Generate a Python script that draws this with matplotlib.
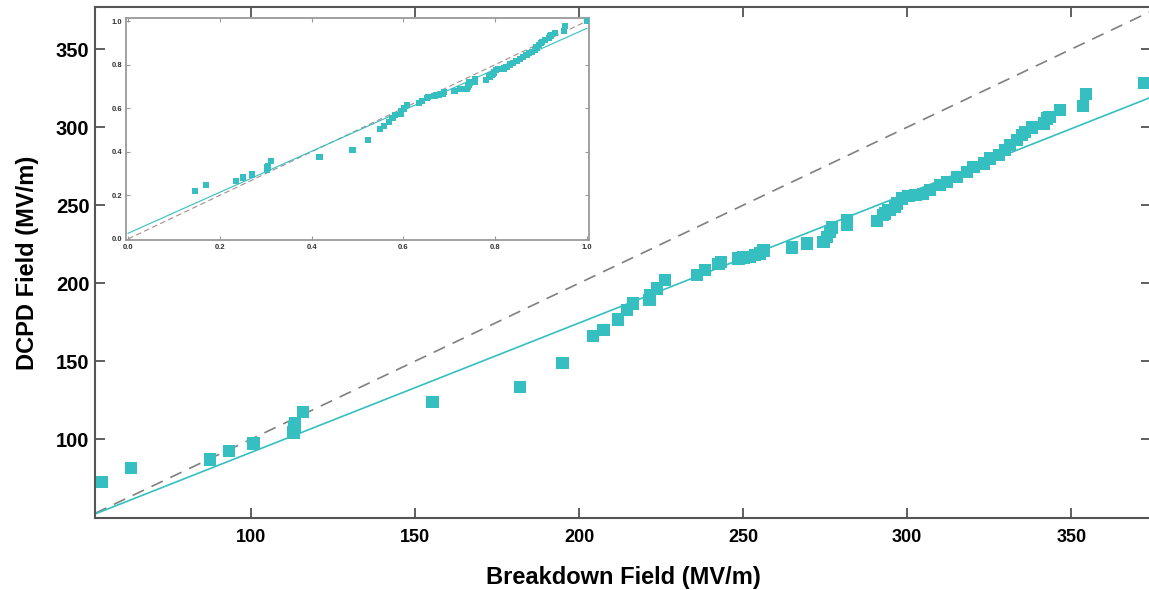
import numpy as np
import matplotlib
matplotlib.use('Agg')
import matplotlib.pyplot as plt

plt.rcParams['font.family'] = ['Liberation Sans', 'DejaVu Sans']

# 读出来的数据点 (Breakdown Field, DCPD Field)
breakdown_field = [54.6, 63.4, 87.5, 93.3, 100.7, 112.9, 113.2, 113.4, 115.8, 155.3,
                   182.0, 194.9, 204.2, 207.4, 211.8, 214.5, 216.4, 221.4, 221.6, 223.7,
                   226.2, 235.9, 238.4, 242.5, 243.2, 248.6, 250.1, 252.1, 253.7, 255.2,
                   256.2, 264.8, 269.4, 274.5, 275.5, 276.5, 277.0, 281.6, 281.6, 290.7,
                   292.7, 293.3, 294.2, 294.8, 296.3, 296.9, 298.4, 300.4, 302.5, 304.8,
                   307.0, 309.9, 312.1, 315.1, 318.2, 320.2, 323.3, 325.3, 327.9, 329.9,
                   331.4, 333.4, 334.9, 336.0, 338.0, 341.6, 342.6, 343.4, 346.6, 353.6,
                   354.6, 372.3]
dcpd_field = [72.4, 81.4, 87.0, 92.5, 97.2, 104.2, 107.5, 110.5, 117.3, 123.9,
              133.5, 148.9, 166.0, 169.9, 176.7, 182.7, 187.0, 189.1, 192.3, 196.6,
              201.9, 205.1, 208.3, 212.2, 213.7, 215.8, 216.5, 216.9, 218.0, 219.0,
              221.0, 222.9, 225.4, 226.5, 229.7, 232.9, 235.7, 237.2, 240.4, 240.0,
              243.6, 244.7, 246.8, 246.8, 248.9, 251.0, 254.3, 256.0, 256.5, 257.0,
              259.6, 262.8, 264.9, 268.1, 271.3, 274.6, 276.7, 279.9, 282.1, 285.3,
              288.5, 291.7, 294.9, 297.0, 299.8, 302.4, 305.6, 306.6, 310.9, 313.5,
              321.2, 328.4]

# 拟合直线 y = k*x + b (从图上读的)
fit_slope = 0.83
fit_intercept = 8.5

x_ticks = [100, 150, 200, 250, 300, 350]
y_ticks = [100, 150, 200, 250, 300, 350]
inset_ticks = [0.0, 0.2, 0.4, 0.6, 0.8, 1.0]

teal = '#35bfc0'


def main():
    x = np.array(breakdown_field)
    y = np.array(dcpd_field)

    fig = plt.figure(figsize=(11.49, 5.90), dpi=100)
    ax = fig.add_axes([0.0827, 0.122, 0.9193, 0.866])

    xlim = (52.4, 374.4)
    ylim = (49.4, 377.0)

    # 参考线 y = x 和拟合线
    ax.plot(xlim, xlim, color='#808080', lw=1.2, dashes=(7.5, 5), zorder=1)
    ax.plot(xlim, [fit_slope * v + fit_intercept for v in xlim], color=teal, lw=1.2, zorder=1)
    ax.scatter(x, y, marker='s', s=78, color=teal, edgecolors='none', zorder=3)

    ax.set_xlim(xlim)
    ax.set_ylim(ylim)
    ax.set_xticks(x_ticks)
    ax.set_yticks(y_ticks)
    ax.tick_params(direction='in', length=7, width=1.2, color='#444444',
                   top=True, right=True)
    ax.tick_params(axis='x', labelsize=13, pad=8)
    ax.tick_params(axis='y', labelsize=14.5, pad=4)
    for lab in ax.get_xticklabels() + ax.get_yticklabels():
        lab.set_fontweight('bold')
    for sp in ax.spines.values():
        sp.set_color('#555555')
        sp.set_linewidth(1.5)

    ax.set_xlabel('Breakdown Field (MV/m)', fontsize=17, fontweight='bold', labelpad=14)
    ax.set_ylabel('DCPD Field (MV/m)', fontsize=17, fontweight='bold', labelpad=12)

    # 小图: 归一化后的数据
    xn = x / x.max()
    yn = y / y.max()
    ins = fig.add_axes([0.1097, 0.5932, 0.4029, 0.3763])
    ins.plot([0, 1], [0, 1], color='#a88c8c', lw=0.8, dashes=(5, 3), zorder=1)
    k_n = fit_slope * x.max() / y.max()
    b_n = fit_intercept / y.max()
    ins.plot([0, 1], [b_n, k_n + b_n], color=teal, lw=0.8, zorder=1)
    ins.scatter(xn, yn, marker='s', s=20, color=teal, edgecolors='none', zorder=3)
    ins.set_xlim(-0.0044, 1.0044)
    ins.set_ylim(-0.005, 1.014)
    ins.set_xticks(inset_ticks)
    ins.set_yticks(inset_ticks)
    ins.set_xticklabels(['%.1f' % t for t in inset_ticks])
    ins.set_yticklabels(['%.1f' % t for t in inset_ticks])
    ins.tick_params(direction='in', length=3, width=0.8, color='#999999',
                    top=True, right=True, labelsize=5.5, pad=3, labelcolor='#333333')
    for lab in ins.get_xticklabels() + ins.get_yticklabels():
        lab.set_fontweight('bold')
    for sp in ins.spines.values():
        sp.set_color('#9a9a9a')
        sp.set_linewidth(1.3)

    fig.savefig('out.png', dpi=100)


if __name__ == "__main__":
    main()
